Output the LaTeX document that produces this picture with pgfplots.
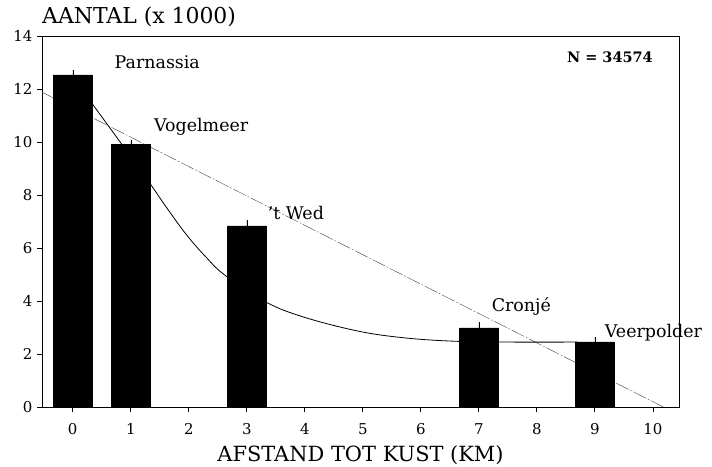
\documentclass[border=0pt]{standalone}
\usepackage{pgfplots}
\pgfplotsset{compat=1.18}
\usepackage{fontspec}
\setmainfont{DejaVu Serif}
\begin{document}
\begin{tikzpicture}[x=1bp,y=1bp]
\useasboundingbox (-42,-60) rectangle (670,407);
\begin{axis}[
  scale only axis, width=637bp, height=371bp,
  at={(0,0)}, anchor=south west,
  xmin=-0.53, xmax=10.45, ymin=0, ymax=14,
  xtick={0,...,10}, ytick={0,2,...,14},
  xtick pos=bottom, ytick pos=left,
  tick align=outside, tick style={black, thick},
  major tick length=5bp,
  axis line style={black, thin},
  /pgf/number format/assume math mode=true,
  ticklabel style={font=\fontsize{15}{15}\selectfont},
  xticklabel style={yshift=-8bp},
  yticklabel style={xshift=-1bp},
  xlabel={AFSTAND TOT KUST (KM)},
  xlabel style={font=\fontsize{21}{21}\selectfont, yshift=-4bp},
  clip=false,
]
% straight line
\addplot[black!75, thin, dash pattern=on 14bp off 2bp on 1.5bp off 2bp] coordinates {(-0.53,11.88) (10.18,0.0)};
% curve
\addplot[black, line width=0.8bp, smooth, tension=0.6] coordinates {
 (0.2,11.85) (0.75,10.2) (1.31,8.50) (1.6,7.58) (1.96,6.50) (2.3,5.65) (2.62,4.98)
 (3.33,3.96) (4.0,3.38) (4.95,2.85) (5.76,2.6) (6.6,2.48) (7.5,2.45) (8.7,2.45)};
% bars
\addplot[ybar, bar width=0.67, fill=black, draw=black,
  error bars/.cd, y dir=plus, y explicit, error mark=none,
  error bar style={black, thin}]
  table[x=x, y=y, y error=e] {
  x y e
  0 12.53 0.2
  1 9.92 0.17
  3 6.83 0.23
  7 2.99 0.2
  9 2.46 0.18
  };
\tikzset{lab/.style={anchor=west, inner sep=0pt, font=\fontsize{17.5}{17.5}\selectfont}}
\node[lab] at (axis cs:0.72,13.0) {Parnassia};
\node[lab] at (axis cs:1.4,10.57) {Vogelmeer};
\node[lab] at (axis cs:3.36,7.32) {'t Wed};
\node[lab] at (axis cs:7.22,3.81) {Cronjé};
\node[lab] at (axis cs:9.17,2.79) {Veerpolder};
\node[anchor=east, inner sep=0pt, font=\bfseries\fontsize{14.5}{14.5}\selectfont] at (axis cs:10.0,13.2) {N = 34574};
\node[anchor=base west, font=\fontsize{22}{22}\selectfont, inner sep=0pt] at (rel axis cs:0,1.035) {AANTAL (x 1000)};
\end{axis}
\end{tikzpicture}
\end{document}
